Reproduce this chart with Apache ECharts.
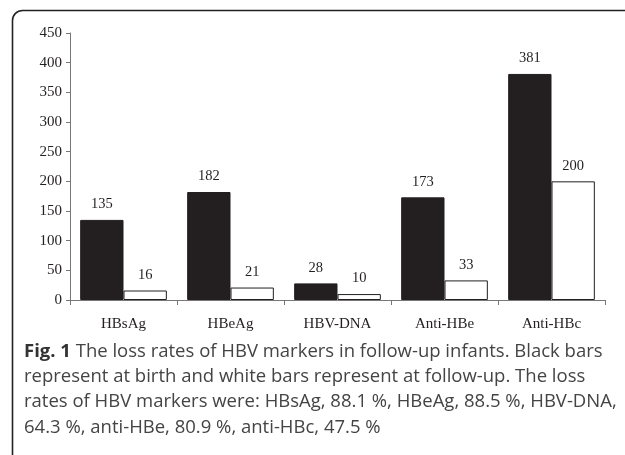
<!DOCTYPE html>
<html><head><meta charset="utf-8">
<script src="https://cdn.jsdelivr.net/npm/echarts@6/dist/echarts.min.js"></script>
<style>html,body{margin:0;padding:0;background:#fff}#c{width:625px;height:455px}</style>
</head><body><div id="c"></div>
<script>
const categories = ['HBsAg', 'HBeAg', 'HBV-DNA', 'Anti-HBe', 'Anti-HBc'];
const atBirth = [135, 182, 28, 173, 381];
const atFollowUp = [16, 21, 10, 33, 200];
const yTicks = [0, 50, 100, 150, 200, 250, 300, 350, 400, 450];
const captionLines = [
  ['Fig. 1', ' The loss rates of HBV markers in follow-up infants. Black bars'],
  ['', 'represent at birth and white bars represent at follow-up. The loss'],
  ['', 'rates of HBV markers were: HBsAg, 88.1 %, HBeAg, 88.5 %, HBV-DNA,'],
  ['', '64.3 %, anti-HBe, 80.9 %, anti-HBc, 47.5 %']
];

const serif = '"Liberation Serif", "DejaVu Serif", serif';
const sans = '"Open Sans", "Noto Sans", sans-serif';
const ink = '#231f20';
const chart = echarts.init(document.getElementById('c'), null, {renderer: 'canvas'});

const graphics = [{
  type: 'rect', left: 10, top: 8,
  shape: {x: 0, y: 0, width: 700, height: 800, r: 10},
  style: {fill: 'none', stroke: '#222', lineWidth: 1.6},
  silent: true
}];
captionLines.forEach((ln, i) => {
  graphics.push({
    type: 'text', left: 24, top: 342 + i * 25.3,
    style: {
      text: (ln[0] ? '{b|' + ln[0] + '}' : '') + '{n|' + ln[1] + '}',
      rich: {
        b: {fontFamily: sans, fontWeight: 'bold', fontSize: 18.5, fill: '#333'},
        n: {fontFamily: sans, fontSize: 18.5, fill: '#444'}
      }
    }
  });
});

chart.setOption({
  animation: false,
  grid: {left: 70, right: 20, top: 33, bottom: 155},
  xAxis: {
    type: 'category', data: categories,
    axisLine: {lineStyle: {color: '#777', width: 1}},
    axisTick: {show: true, length: 5, lineStyle: {color: '#777'}},
    axisLabel: {fontFamily: serif, fontSize: 15, color: ink, margin: 17}
  },
  yAxis: {
    type: 'value', min: 0, max: 450, interval: 50,
    splitLine: {show: false},
    axisLine: {show: true, lineStyle: {color: '#777', width: 1}},
    axisTick: {show: true, length: 4, lineStyle: {color: '#777'}},
    axisLabel: {fontFamily: serif, fontSize: 15, color: ink, margin: 8,
      formatter: v => yTicks.includes(v) ? String(v) : ''}
  },
  series: [{
    type: 'bar', data: atBirth, barCategoryGap: '19%', barGap: '0%',
    itemStyle: {color: ink, borderColor: ink, borderWidth: 1},
    label: {show: true, position: 'top', distance: 8, fontFamily: serif, fontSize: 14.5, color: ink}
  }, {
    type: 'bar', data: atFollowUp,
    itemStyle: {color: '#fff', borderColor: ink, borderWidth: 1},
    label: {show: true, position: 'top', distance: 8, fontFamily: serif, fontSize: 14.5, color: ink}
  }],
  graphic: graphics
});
</script></body></html>
